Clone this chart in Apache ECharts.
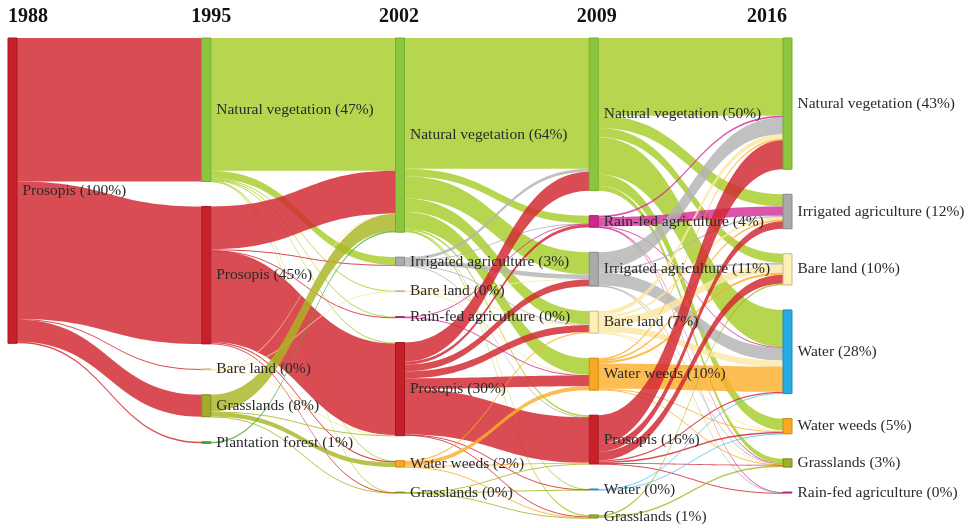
<!DOCTYPE html>
<html><head><meta charset="utf-8">
<script src="https://cdn.jsdelivr.net/npm/echarts@6/dist/echarts.min.js"></script>
<style>html,body{margin:0;padding:0;background:#fff}#c{width:971px;height:528px}</style>
</head><body><div id="c"></div>
<script>
const years = ['1988', '1995', '2002', '2009', '2016'];

// nodes of each year (top to bottom): [category, percentage label]
const nodes1988 = [['Prosopis', '100%']];
const nodes1995 = [['Natural vegetation', '47%'], ['Prosopis', '45%'], ['Bare land', '0%'], ['Grasslands', '8%'], ['Plantation forest', '1%']];
const nodes2002 = [['Natural vegetation', '64%'], ['Irrigated agriculture', '3%'], ['Bare land', '0%'], ['Rain-fed agriculture', '0%'], ['Prosopis', '30%'], ['Water weeds', '2%'], ['Grasslands', '0%']];
const nodes2009 = [['Natural vegetation', '50%'], ['Rain-fed agriculture', '4%'], ['Irrigated agriculture', '11%'], ['Bare land', '7%'], ['Water weeds', '10%'], ['Prosopis', '16%'], ['Water', '0%'], ['Grasslands', '1%']];
const nodes2016 = [['Natural vegetation', '43%'], ['Irrigated agriculture', '12%'], ['Bare land', '10%'], ['Water', '28%'], ['Water weeds', '5%'], ['Grasslands', '3%'], ['Rain-fed agriculture', '0%']];

// flows (share of area, %): [from, to, value]
const flows1988to1995 = [
  ['Prosopis', 'Natural vegetation', 47],
  ['Prosopis', 'Prosopis', 45],
  ['Prosopis', 'Bare land', 0.3],
  ['Prosopis', 'Grasslands', 7.2],
  ['Prosopis', 'Plantation forest', 0.5]
];
const flows1995to2002 = [
  ['Natural vegetation', 'Natural vegetation', 43.5],
  ['Natural vegetation', 'Irrigated agriculture', 2.5],
  ['Natural vegetation', 'Bare land', 0.2],
  ['Natural vegetation', 'Rain-fed agriculture', 0.2],
  ['Natural vegetation', 'Prosopis', 0.3],
  ['Natural vegetation', 'Water weeds', 0.2],
  ['Natural vegetation', 'Grasslands', 0.1],
  ['Prosopis', 'Natural vegetation', 14],
  ['Prosopis', 'Irrigated agriculture', 0.3],
  ['Prosopis', 'Rain-fed agriculture', 0.1],
  ['Prosopis', 'Prosopis', 30],
  ['Prosopis', 'Water weeds', 0.4],
  ['Prosopis', 'Grasslands', 0.1],
  ['Bare land', 'Natural vegetation', 0.1],
  ['Bare land', 'Bare land', 0.1],
  ['Bare land', 'Prosopis', 0.1],
  ['Grasslands', 'Natural vegetation', 5.5],
  ['Grasslands', 'Prosopis', 0.1],
  ['Grasslands', 'Water weeds', 1.5],
  ['Grasslands', 'Grasslands', 0.1],
  ['Plantation forest', 'Natural vegetation', 0.5]
];
const flows2002to2009 = [
  ['Natural vegetation', 'Natural vegetation', 42.8],
  ['Natural vegetation', 'Rain-fed agriculture', 2.5],
  ['Natural vegetation', 'Irrigated agriculture', 7.3],
  ['Natural vegetation', 'Bare land', 4.3],
  ['Natural vegetation', 'Water weeds', 5.5],
  ['Natural vegetation', 'Prosopis', 0.6],
  ['Natural vegetation', 'Water', 0.1],
  ['Natural vegetation', 'Grasslands', 0.5],
  ['Irrigated agriculture', 'Natural vegetation', 1.0],
  ['Irrigated agriculture', 'Rain-fed agriculture', 0.1],
  ['Irrigated agriculture', 'Irrigated agriculture', 1.5],
  ['Irrigated agriculture', 'Bare land', 0.1],
  ['Irrigated agriculture', 'Prosopis', 0.1],
  ['Bare land', 'Irrigated agriculture', 0.1],
  ['Bare land', 'Bare land', 0.1],
  ['Bare land', 'Water weeds', 0.1],
  ['Rain-fed agriculture', 'Rain-fed agriculture', 0.2],
  ['Rain-fed agriculture', 'Water weeds', 0.1],
  ['Prosopis', 'Natural vegetation', 6.2],
  ['Prosopis', 'Rain-fed agriculture', 1.0],
  ['Prosopis', 'Irrigated agriculture', 2.2],
  ['Prosopis', 'Bare land', 2.3],
  ['Prosopis', 'Water weeds', 3.5],
  ['Prosopis', 'Prosopis', 14.9],
  ['Prosopis', 'Water', 0.1],
  ['Prosopis', 'Grasslands', 0.3],
  ['Water weeds', 'Bare land', 0.4],
  ['Water weeds', 'Water weeds', 1.3],
  ['Water weeds', 'Prosopis', 0.3],
  ['Water weeds', 'Grasslands', 0.1],
  ['Grasslands', 'Prosopis', 0.1],
  ['Grasslands', 'Water', 0.1],
  ['Grasslands', 'Grasslands', 0.1]
];
const flows2009to2016 = [
  ['Natural vegetation', 'Natural vegetation', 25.5],
  ['Natural vegetation', 'Irrigated agriculture', 4.0],
  ['Natural vegetation', 'Bare land', 3.0],
  ['Natural vegetation', 'Water', 12.2],
  ['Natural vegetation', 'Water weeds', 3.8],
  ['Natural vegetation', 'Grasslands', 1.5],
  ['Rain-fed agriculture', 'Natural vegetation', 0.5],
  ['Rain-fed agriculture', 'Irrigated agriculture', 3.0],
  ['Rain-fed agriculture', 'Water', 0.1],
  ['Rain-fed agriculture', 'Grasslands', 0.1],
  ['Rain-fed agriculture', 'Rain-fed agriculture', 0.1],
  ['Irrigated agriculture', 'Natural vegetation', 5.5],
  ['Irrigated agriculture', 'Irrigated agriculture', 0.5],
  ['Irrigated agriculture', 'Bare land', 0.6],
  ['Irrigated agriculture', 'Water', 4.3],
  ['Irrigated agriculture', 'Grasslands', 0.1],
  ['Irrigated agriculture', 'Rain-fed agriculture', 0.1],
  ['Bare land', 'Natural vegetation', 1.5],
  ['Bare land', 'Irrigated agriculture', 0.8],
  ['Bare land', 'Bare land', 2.5],
  ['Bare land', 'Water', 2.0],
  ['Bare land', 'Water weeds', 0.3],
  ['Bare land', 'Grasslands', 0.1],
  ['Water weeds', 'Natural vegetation', 0.5],
  ['Water weeds', 'Irrigated agriculture', 0.5],
  ['Water weeds', 'Bare land', 0.8],
  ['Water weeds', 'Water', 8.2],
  ['Water weeds', 'Water weeds', 0.3],
  ['Water weeds', 'Grasslands', 0.2],
  ['Prosopis', 'Natural vegetation', 9.5],
  ['Prosopis', 'Irrigated agriculture', 2.5],
  ['Prosopis', 'Bare land', 2.8],
  ['Prosopis', 'Water', 0.4],
  ['Prosopis', 'Water weeds', 0.5],
  ['Prosopis', 'Grasslands', 0.2],
  ['Prosopis', 'Rain-fed agriculture', 0.1],
  ['Water', 'Water', 0.2],
  ['Water', 'Water weeds', 0.1],
  ['Grasslands', 'Bare land', 0.5],
  ['Grasslands', 'Grasslands', 0.5]
];

const nodeColors = {
  'Prosopis': '#c8202a',
  'Natural vegetation': '#8cc63e',
  'Grasslands': '#a3ad2b',
  'Plantation forest': '#4fae3b',
  'Bare land': '#fdf0b9',
  'Irrigated agriculture': '#aaaaaa',
  'Rain-fed agriculture': '#d0268f',
  'Water weeds': '#f8a823',
  'Water': '#27aae1'
};
const nodeBorders = {
  'Prosopis': '#a81820',
  'Natural vegetation': '#74ad2c',
  'Grasslands': '#7e8820',
  'Plantation forest': '#3b8f2c',
  'Bare land': '#c9b98a',
  'Irrigated agriculture': '#888888',
  'Rain-fed agriculture': '#a81c72',
  'Water weeds': '#d08a10',
  'Water': '#1d8bbb'
};
const linkColors = {
  'Prosopis': '#d2252e',
  'Natural vegetation': '#a6cd2a',
  'Grasslands': '#aab422',
  'Plantation forest': '#4cae38',
  'Bare land': '#fbe8a4',
  'Irrigated agriculture': '#b3b3b3',
  'Rain-fed agriculture': '#d42f9a',
  'Water weeds': '#fbaf2c',
  'Water': '#5fc2ec'
};

const nodesByYear = [nodes1988, nodes1995, nodes2002, nodes2009, nodes2016];
const flowsByStep = [flows1988to1995, flows1995to2002, flows2002to2009, flows2009to2016];

const labelText = {};
const data = [];
nodesByYear.forEach((list, i) => {
  list.forEach(([cat, pct]) => {
    const name = cat + ' ' + years[i];
    labelText[name] = cat + ' (' + pct + ')';
    data.push({
      name: name, depth: i,
      itemStyle: { color: nodeColors[cat], borderColor: nodeBorders[cat], borderWidth: 1 }
    });
  });
});
const links = [];
flowsByStep.forEach((list, i) => {
  list.forEach(([s, t, v]) => {
    links.push({
      source: s + ' ' + years[i],
      target: t + ' ' + years[i + 1],
      value: v,
      lineStyle: { color: linkColors[s] }
    });
  });
});

const L = 8, W = 784, NW = 9;
const step = (W - NW) / (years.length - 1);
const yearNudge = [0, 5, -1, 3, 0];
const yearGraphics = years.map((y, i) => {
  const cx = L + i * step + NW / 2 + yearNudge[i];
  let align = 'center', x = cx;
  if (i === 0) { align = 'left'; x = L; }
  if (i === years.length - 1) { align = 'right'; x = L + i * step + NW - 5; }
  return {
    type: 'text', x: x, y: 17,
    style: {
      text: y, align: align, verticalAlign: 'middle',
      font: 'bold 20px "Liberation Serif", "Times New Roman", serif',
      fill: '#111'
    }
  };
});

const chart = echarts.init(document.getElementById('c'), null, { renderer: 'canvas' });
chart.setOption({
  animation: false,
  backgroundColor: '#fff',
  graphic: yearGraphics,
  series: [{
    type: 'sankey',
    left: L, top: 38, width: W, height: 480,
    nodeWidth: NW,
    nodeGap: 25,
    layoutIterations: 0,
    draggable: false,
    emphasis: { disabled: true },
    label: {
      position: 'right', distance: 5,
      fontFamily: '"Liberation Serif", "Times New Roman", serif',
      fontSize: 15.5, color: '#2a2a2a',
      formatter: p => labelText[p.name]
    },
    lineStyle: { curveness: 0.5, opacity: 0.82 },
    data: data,
    links: links
  }]
});
</script></body></html>
